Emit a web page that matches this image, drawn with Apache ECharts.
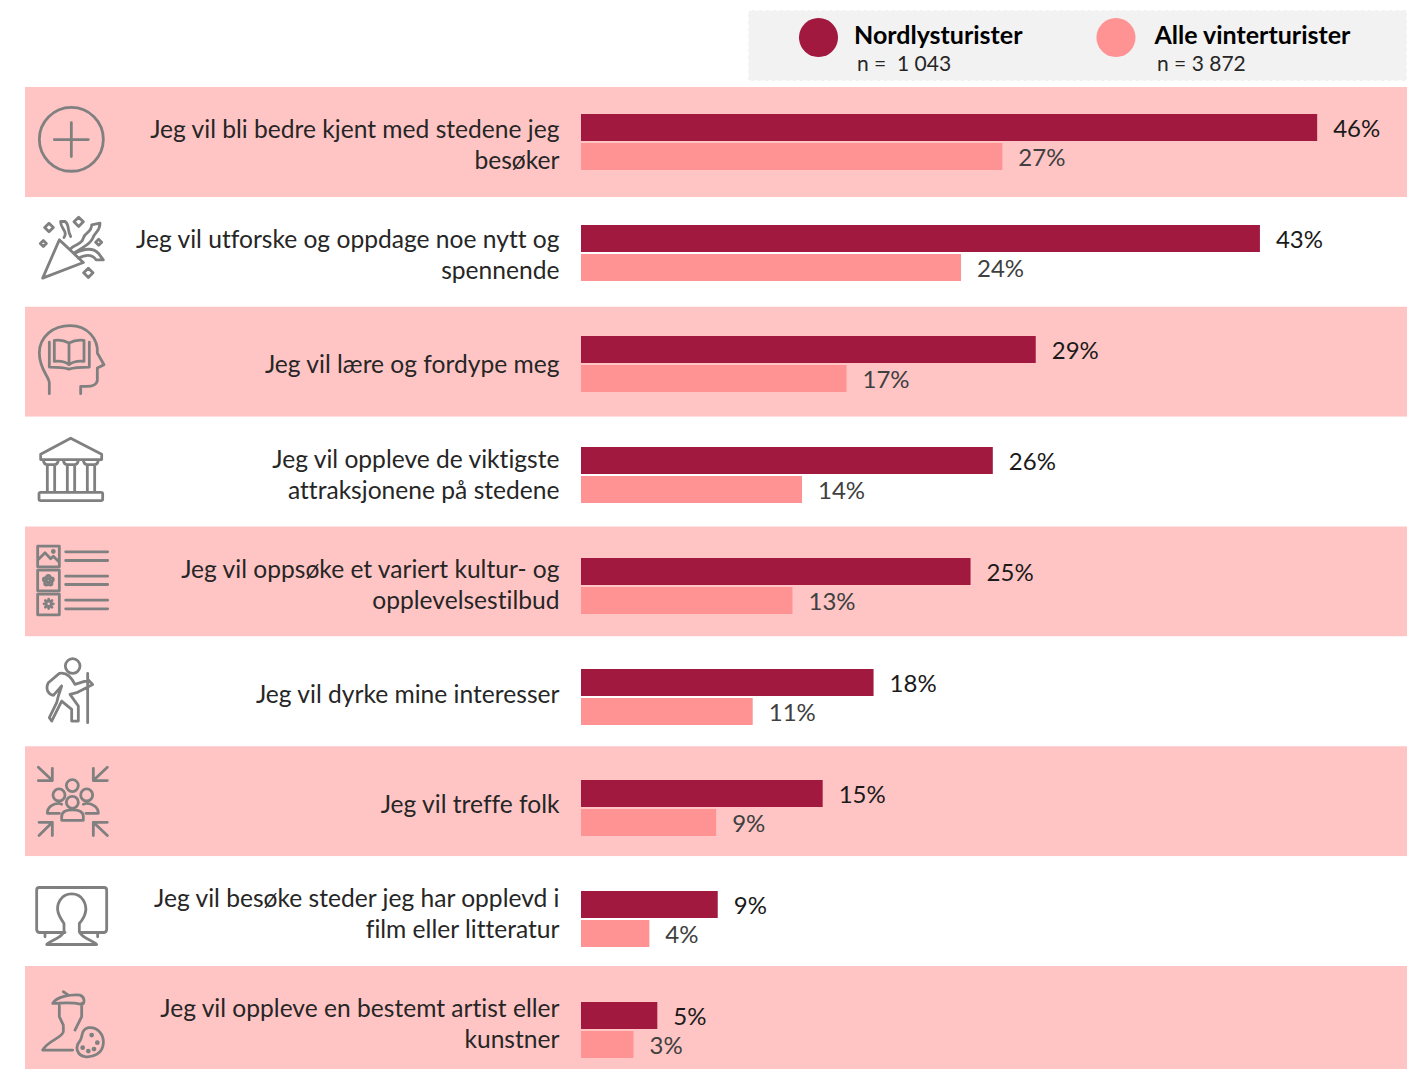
<!DOCTYPE html>
<html>
<head>
<meta charset="utf-8">
<style>
  html, body { margin: 0; padding: 0; background: #fff; }
  #chart { width: 1407px; height: 1069px; }
  #chart text { font-variant-ligatures: none; }
</style>
</head>
<body>
<div id="chart"></div>
<script src="https://cdn.jsdelivr.net/npm/echarts@6/dist/echarts.min.js"></script>
<script>
const categories = [
  'Jeg vil bli bedre kjent med stedene jeg\nbesøker',
  'Jeg vil utforske og oppdage noe nytt og\nspennende',
  'Jeg vil lære og fordype meg',
  'Jeg vil oppleve de viktigste\nattraksjonene på stedene',
  'Jeg vil oppsøke et variert kultur- og\nopplevelsestilbud',
  'Jeg vil dyrke mine interesser',
  'Jeg vil treffe folk',
  'Jeg vil besøke steder jeg har opplevd i\nfilm eller litteratur',
  'Jeg vil oppleve en bestemt artist eller\nkunstner'
];
const seriesNames = ['Nordlysturister', 'Alle vinterturister'];
const sampleSizes = ['n =  1 043', 'n = 3 872'];
// the bars are not exact whole percents, read from their length
const nordlys = [46.3, 42.7, 28.6, 25.9, 24.5, 18.4, 15.2, 8.6, 4.8];
const alleVinter = [26.5, 23.9, 16.7, 13.9, 13.3, 10.8, 8.5, 4.3, 3.3];

// icons traced at 3x, each one in a 240x240 frame
const framed = (top, d) => 'M33 ' + top + 'M273 ' + (top + 240) + d;
const diamond = (x, y, r) => `M${x} ${y - r}L${x + r} ${y}L${x} ${y + r}L${x - r} ${y}Z`;
const ring = (x, y, r) => `M${x + r} ${y}A${r} ${r} 0 1 0 ${x - r} ${y}A${r} ${r} 0 1 0 ${x + r} ${y}`;
const icons = [
  framed(36, ring(154, 148, 96) + 'M103 149H205M154 98V200'),
  framed(366, 'M118 450L68 565L190 518C170 500 135 465 118 450Z'
    + 'M132 443C145 425 120 415 122 395L135 395C150 405 140 420 152 440'
    + 'M150 478C170 460 185 465 190 445C195 425 215 430 215 405L240 400C240 425 225 425 218 445C210 465 190 470 165 488'
    + 'M165 490C185 480 215 470 235 490L250 510L228 510C215 490 195 495 175 505'
    + diamond(87, 413, 13) + diamond(176, 396, 14) + diamond(70, 461, 9) + diamond(236, 457, 9) + diamond(205, 549, 14)),
  framed(696, 'M88 912V880C88 860 58 840 58 790C58 740 100 708 150 708C205 708 235 750 232 790L252 825L232 835V870C232 885 215 890 200 890H182V912'
    + 'M147 760C130 750 115 750 103 752V815C120 813 135 815 147 825C160 815 175 813 192 815V752C180 750 165 750 147 760V825'
    + 'M88 757V832C115 832 130 832 147 838C165 832 180 832 208 832V757'),
  framed(36, 'M152 56L62 104V120H245V104Z'
    + 'M70 122Q72 135 82 135H103Q113 135 115 122M82 135V218M104 135V218'
    + 'M130 122Q132 135 142 135H163Q173 135 175 122M142 135V218M164 135V218'
    + 'M190 122Q192 135 202 135H223Q233 135 235 122M202 135V218M224 135V218'
    + 'M62 218H243Q248 218 248 223V238Q248 243 243 243H62Q57 243 57 238V223Q57 218 62 218Z'),
  framed(366, 'M53 380H118V442H53ZM53 452H118V514H53ZM53 524H118V586H53Z'
    + 'M137 397H263M137 423H263M137 470H263M137 495H263M137 542H263M137 568H263'
    + 'M55 420L75 400L92 418L100 410L118 428' + ring(100, 396, 3)
    + ring(85, 473, 5) + ring(95, 480, 5) + ring(91, 492, 5) + ring(79, 492, 5) + ring(75, 480, 5) + ring(86, 553, 8)
    + 'M86 539V543M86 563V567M72 553H76M96 553H100M76 543L79 546M93 560L96 563M76 563L79 560M93 546L96 543'),
  framed(696, ring(158, 740, 22)
    + 'M118 762L85 790C75 810 85 825 100 828L125 800'
    + 'M118 762C135 758 150 765 165 795L205 782L218 795L170 820L150 825L175 860V905H155V870L125 845L95 905L88 895L110 850L115 830L125 800'
    + 'M203 762V910'),
  framed(49, 'M55 67L97 107M97 70V107H55M262 67L220 107M220 70V107H262'
    + 'M57 272L97 232M97 272V232H57M262 272L220 232M220 272V232H262'
    + ring(157, 122, 18) + ring(117, 150, 18) + ring(200, 150, 18) + ring(157, 172, 18)
    + 'M125 226V215C125 200 140 195 157 195C175 195 190 200 190 215V226Z'
    + 'M82 205C82 185 100 175 117 175L125 178M82 205H118'
    + 'M235 205C235 185 215 175 200 175L190 178M198 205H235'),
  framed(378, 'M135 562H60Q50 562 50 552V435Q50 427 58 427H252Q260 427 260 435V552Q260 562 250 562H180'
    + 'M75 562V575M233 562V575'
    + 'M80 598C90 585 125 580 132 560V535C115 510 105 490 120 465C135 440 175 440 190 465C205 490 195 515 178 535V560C185 580 220 585 230 598Z'),
  framed(708, 'M98 775C110 755 150 748 180 750C195 755 195 775 185 778C150 770 125 775 98 775ZM130 740L145 750'
    + 'M118 782V815L130 840V860C125 880 85 885 68 915H158M185 775V815L165 855'
    + 'M205 848C235 845 252 870 250 895C248 925 220 938 195 935C170 930 165 905 178 890C190 878 180 855 205 848Z'
    + ring(215, 870, 3) + ring(232, 893, 3) + ring(222, 912, 3) + ring(205, 918, 3) + ring(188, 908, 3))
];

const darkRed = '#A1193F';
const lightRed = '#FF9393';
const labelFont = 'Lato';

function percent(p) {
  return Math.round(p.value) + '%';
}

const legendText = { fontFamily: labelFont, fontSize: 25, fontWeight: 'bold', color: '#000' };

const myChart = echarts.init(document.getElementById('chart'), null, { renderer: 'svg' });
myChart.setOption({
  animation: false,
  textStyle: { fontFamily: labelFont },
  legend: {
    data: seriesNames,
    left: 799,
    top: 18,
    padding: 0,
    icon: 'circle',
    itemWidth: 39,
    itemHeight: 39,
    itemGap: 74,
    selectedMode: false,
    formatter: name => (name === seriesNames[0] ? '{a|' : '{b|') + name + '}',
    textStyle: {
      ...legendText,
      rich: {
        a: { ...legendText, padding: [0, 0, 7, 11] },
        b: { ...legendText, padding: [0, 0, 7, 14] }
      }
    }
  },
  graphic: [
    {
      type: 'rect', z: -1, silent: true,
      shape: { x: 748, y: 10, width: 659, height: 71 },
      style: { fill: '#F2F2F2', stroke: '#fff', lineWidth: 1.5, lineDash: [4, 3] }
    },
    {
      type: 'text', left: 857, top: 52, z: 5,
      style: { text: sampleSizes[0], font: '21px ' + labelFont, fill: '#262626' }
    },
    {
      type: 'text', left: 1157, top: 52, z: 5,
      style: { text: sampleSizes[1], font: '21px ' + labelFont, fill: '#262626' }
    }
  ],
  grid: [
    // pink rows and icons
    { left: 25, right: 0, top: 87, height: 989, outerBoundsMode: 'none' },
    // bars, these step a little wider than the rows
    { left: 581, width: 795, top: 86.5, height: 999, outerBoundsMode: 'none' },
    // row texts sit a bit under the middle of the rows
    { left: 25, right: 0, top: 89, height: 989, outerBoundsMode: 'none' }
  ],
  xAxis: [
    { gridIndex: 0, type: 'value', min: 0, max: 1, show: false },
    { gridIndex: 1, type: 'value', min: 0, max: 50, show: false },
    { gridIndex: 2, type: 'value', min: 0, max: 1, show: false }
  ],
  yAxis: [
    {
      gridIndex: 0,
      type: 'category',
      inverse: true,
      data: categories,
      axisLine: { show: false },
      axisTick: { show: false },
      axisLabel: { show: false },
      splitLine: { show: false },
      splitArea: { show: true, areaStyle: { color: ['#FFC5C5', '#FFFFFF'] } }
    },
    { gridIndex: 1, type: 'category', inverse: true, data: categories, show: false },
    {
      gridIndex: 2,
      type: 'category',
      inverse: true,
      data: categories,
      axisLine: { show: false },
      axisTick: { show: false },
      splitLine: { show: false },
      axisLabel: {
        margin: -534.5,
        fontFamily: labelFont,
        fontSize: 24.6,
        lineHeight: 31,
        color: '#262626',
        align: 'right'
      }
    }
  ],
  series: [
    {
      name: seriesNames[0],
      type: 'bar',
      xAxisIndex: 1,
      yAxisIndex: 1,
      data: nordlys,
      barWidth: 27,
      barGap: '7%',
      itemStyle: { color: darkRed },
      label: { show: true, position: 'right', distance: 16, fontFamily: labelFont, fontSize: 24, color: '#1a1a1a', formatter: percent }
    },
    {
      name: seriesNames[1],
      type: 'bar',
      xAxisIndex: 1,
      yAxisIndex: 1,
      data: alleVinter,
      barWidth: 27,
      itemStyle: { color: lightRed },
      label: { show: true, position: 'right', distance: 16, fontFamily: labelFont, fontSize: 24, color: '#404040', formatter: percent }
    },
    {
      type: 'custom',
      xAxisIndex: 0,
      yAxisIndex: 0,
      silent: true,
      data: icons.map((d, i) => [0, i]),
      renderItem: function (params, api) {
        const pos = api.coord([0, api.value(1)]);
        return {
          type: 'path',
          shape: { pathData: icons[params.dataIndex], x: pos[0] + 6, y: pos[1] - 40, width: 80, height: 80, layout: 'cover' },
          style: { fill: 'none', stroke: '#808080', lineWidth: 2.8, lineJoin: 'round', lineCap: 'round' }
        };
      }
    }
  ]
});
window.addEventListener('resize', () => {
  myChart.resize();
});
</script>
</body>
</html>
